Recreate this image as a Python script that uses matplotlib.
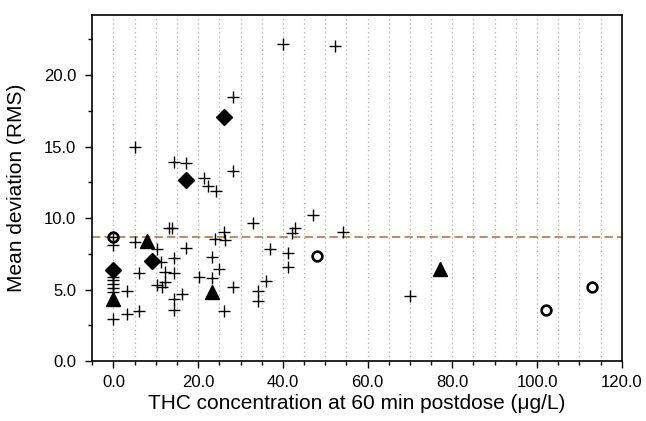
import matplotlib
matplotlib.use("Agg")
import matplotlib.pyplot as plt
from matplotlib.ticker import MultipleLocator, FormatStrFormatter

plt.rcParams.update({
    "font.family": "Liberation Sans",
    "font.size": 12,
})

# -- Data --------------------------------------------------------------------

plus_x = [0, 0, 0, 0, 0, 0, 0, 0,
          3.2, 3.2, 5.1, 5.1, 6.1, 6.1,
          10.2, 10.2, 11.3, 11.4, 12.2, 12.2,
          13.2, 13.9, 14.2, 14.2, 14.2, 14.2, 14.2,
          16.1, 17.2, 17.2, 20.1,
          21.3, 22.2, 23.2, 23.2, 24.0, 24.2,
          25.0, 26.1, 26.4, 26.1,
          28.2, 28.2, 28.2, 33.0, 34.2, 34.2, 36.0, 37.0,
          40.1, 41.1, 41.1, 42.1, 42.9, 47.1, 52.2, 54.1, 70.0]
plus_y = [8.69, 8.1, 5.9, 5.65, 5.4, 5.1, 4.8, 2.94,
          4.92, 3.26, 14.94, 8.3, 6.18, 3.5,
          7.81, 5.31, 6.9, 5.2, 6.25, 5.5,
          9.28, 9.28, 13.94, 7.18, 6.13, 4.34, 3.57,
          4.66, 13.82, 7.88, 5.9,
          12.78, 12.24, 7.29, 5.78, 8.51, 11.9,
          6.43, 9.0, 8.46, 3.5,
          18.44, 13.29, 5.2, 9.63, 4.87, 4.22, 5.62, 7.8,
          22.2, 7.58, 6.55, 8.97, 9.3, 10.19, 22.0, 9.0, 4.55]

diamond_x = [0, 9.2, 17.1, 26.1]
diamond_y = [6.36, 6.99, 12.66, 17.04]

triangle_x = [0, 8.0, 23.2, 77.1]
triangle_y = [4.34, 8.39, 4.85, 6.43]

circle_x = [0, 48.1, 102.1, 113.1]
circle_y = [8.69, 7.37, 3.57, 5.2]

mean_rms = 8.7

# -- Figure -------------------------------------------------------------------

fig = plt.figure(figsize=(6.46, 4.21), dpi=100)
ax = fig.add_axes([0.1429, 0.1425, 0.8195, 0.822])

for x in range(0, 120, 5):
    ax.axvline(x, color="#b0b0b0", lw=0.9, linestyle=(0, (1, 2.5)), zorder=0)

ax.axhline(mean_rms, color="#b8916a", lw=1.5, linestyle=(0, (4, 2)), zorder=1)

ax.plot(plus_x, plus_y, linestyle="none", marker="+", ms=8, mew=1.0,
        color="black", zorder=3)
ax.plot(diamond_x, diamond_y, linestyle="none", marker="D", ms=8,
        color="black", zorder=4)
ax.plot(triangle_x, triangle_y, linestyle="none", marker="^", ms=9.5,
        color="black", zorder=4)
ax.plot(circle_x, circle_y, linestyle="none", marker="o", ms=7, mew=1.9,
        mfc="none", mec="black", zorder=4)

ax.set_xlim(-5, 120)
ax.set_ylim(0, 24.2)
ax.xaxis.set_major_locator(MultipleLocator(20))
ax.xaxis.set_minor_locator(MultipleLocator(5))
ax.yaxis.set_major_locator(MultipleLocator(5))
ax.yaxis.set_minor_locator(MultipleLocator(2.5))
ax.xaxis.set_major_formatter(FormatStrFormatter("%.1f"))
ax.yaxis.set_major_formatter(FormatStrFormatter("%.1f"))
ax.tick_params(which="major", length=5, width=1, labelsize=12)
ax.tick_params(axis="x", which="major", pad=5)
ax.tick_params(axis="y", which="major", pad=6.5)
ax.tick_params(which="minor", length=3, width=1)
for sp in ax.spines.values():
    sp.set_linewidth(1.2)

ax.set_xlabel("THC concentration at 60 min postdose (\u03bcg/L)", fontsize=15,
              labelpad=3)
ax.set_ylabel("Mean deviation (RMS)", fontsize=15, labelpad=13)

fig.savefig("out.png", dpi=100)
